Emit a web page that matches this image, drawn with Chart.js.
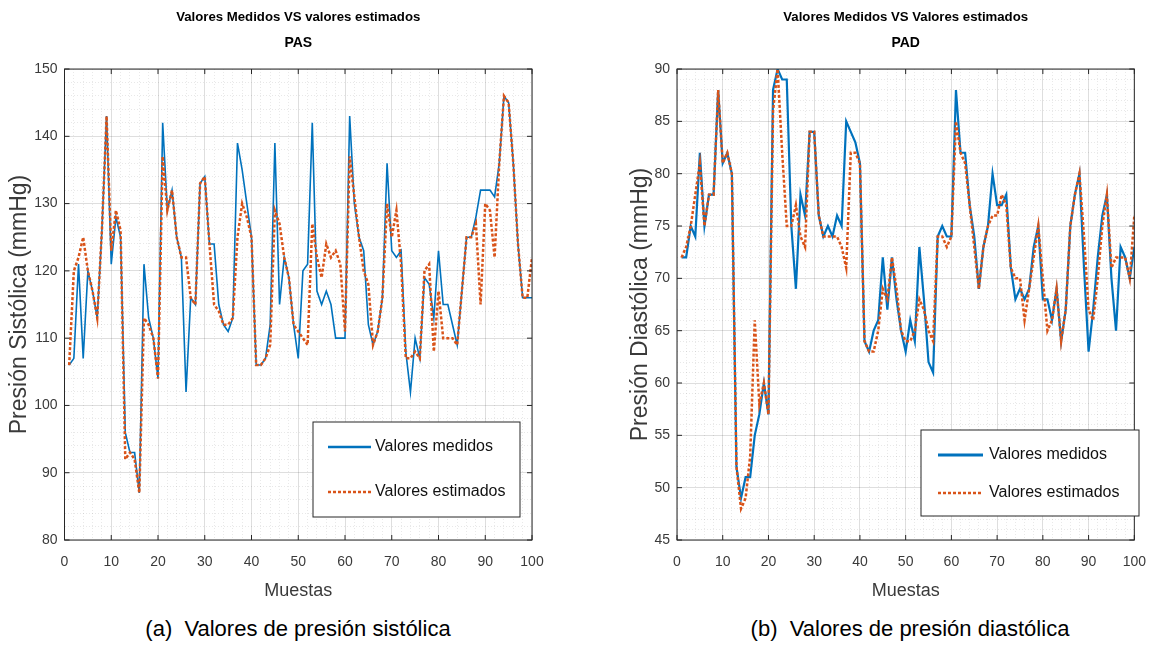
<!DOCTYPE html>
<html>
<head>
<meta charset="utf-8">
<title>PAS / PAD</title>
<script src="https://cdn.jsdelivr.net/npm/chart.js@4.4.1/dist/chart.umd.min.js"></script>
<style>
  html, body { margin: 0; padding: 0; background: #fff; }
  body { width: 1160px; height: 652px; position: relative; overflow: hidden; }
  .panel { position: absolute; top: 0; }
  .caption {
    position: absolute; top: 616px; font-family: 'Liberation Sans', Arial, sans-serif;
    font-size: 22px; color: #000; text-align: center; white-space: nowrap;
  }
</style>
</head>
<body>
<div class="panel" style="left:0"><canvas id="pas" width="580" height="610"></canvas></div>
<div class="panel" style="left:590px"><canvas id="pad" width="570" height="610"></canvas></div>
<div class="caption" style="left:0;width:596px">(a)&nbsp; Valores de presión sistólica</div>
<div class="caption" style="left:660px;width:500px">(b)&nbsp; Valores de presión diastólica</div>

<script>
// muestras 1..100
const muestras = Array.from({ length: 100 }, (_, i) => i + 1);

// presión sistólica (mmHg)
const pasMedidos = [
  106, 107, 121, 107, 120, 117, 113, 126, 143, 121,
  128, 125, 96, 93, 93, 87, 121, 113, 110, 104,
  142, 129, 132, 125, 122, 102, 116, 115, 133, 134,
  124, 124, 115, 112, 111, 113, 139, 135, 130, 125,
  106, 106, 107, 112, 139, 115, 122, 119, 112, 107,
  120, 121, 142, 117, 115, 117, 115, 110, 110, 110,
  143, 130, 125, 123, 112, 109, 111, 116, 136, 123,
  122, 123, 108, 102, 110, 107, 119, 118, 113, 123,
  115, 115, 112, 109, 117, 125, 125, 128, 132, 132,
  132, 131, 136, 146, 145, 136, 124, 116, 116, 116
];
const pasEstimados = [
  106, 120, 122, 125, 120, 117, 113, 126, 143, 123,
  129, 126, 92, 93, 92, 87, 113, 112, 110, 104,
  137, 129, 132, 125, 122, 122, 116, 115, 133, 134,
  124, 115, 114, 112, 112, 113, 125, 130, 128, 125,
  106, 106, 107, 109, 129, 127, 122, 119, 112, 111,
  110, 109, 127, 122, 119, 124, 122, 123, 121, 111,
  137, 131, 125, 120, 118, 109, 111, 116, 130, 125,
  129, 121, 107, 107, 108, 107, 120, 121, 108, 117,
  110, 110, 110, 109, 117, 125, 125, 127, 115, 130,
  129, 122, 136, 146, 145, 136, 124, 116, 116, 122
];

// presión diastólica (mmHg)
const padMedidos = [
  72, 72, 75, 74, 82, 75, 78, 78, 88, 81,
  82, 80, 52, 49, 51, 51, 55, 57, 60, 57,
  88, 90, 89, 89, 75, 69, 78, 76, 84, 84,
  76, 74, 75, 74, 76, 75, 85, 84, 83, 81,
  64, 63, 65, 66, 72, 67, 72, 68, 65, 63,
  66, 64, 73, 68, 62, 61, 74, 75, 74, 74,
  88, 82, 82, 77, 74, 69, 73, 75, 80, 77,
  77, 78, 71, 68, 69, 68, 69, 73, 75, 68,
  68, 66, 69, 64, 67, 75, 78, 80, 71, 63,
  67, 72, 76, 78, 70, 65, 73, 72, 70, 73
];
const padEstimados = [
  72, 73, 75, 78, 81, 75, 78, 78, 88, 81,
  82, 80, 52, 48, 49, 53, 66, 58, 60, 57,
  86, 90, 82, 75, 75, 77, 74, 73, 84, 84,
  76, 74, 74, 74, 74, 73, 71, 82, 82, 81,
  64, 63, 63, 65, 69, 68, 72, 69, 65, 64,
  64, 65, 68, 67, 65, 64, 74, 74, 73, 74,
  85, 82, 81, 77, 73, 69, 73, 75, 76, 76,
  78, 77, 71, 70, 70, 66, 69, 72, 75, 70,
  65, 66, 69, 64, 67, 75, 78, 80, 74, 67,
  66, 70, 75, 78, 71, 72, 72, 72, 70, 76
];

const etiquetas = ['Valores medidos', 'Valores estimados'];

const AZUL = '#0072BD';
const NARANJA = '#D95319';
const SANS = "'Liberation Sans', Arial, sans-serif";
const TEXTO = '#3a3a3a';

// marco tipo MATLAB: caja, marcas hacia dentro y leyenda abajo a la derecha
const marcoMatlab = {
  id: 'marcoMatlab',
  afterDraw(chart, args, opts) {
    const { ctx, chartArea: a, scales } = chart;
    ctx.save();
    ctx.strokeStyle = '#262626';
    ctx.lineWidth = 1;
    ctx.strokeRect(a.left, a.top, a.width, a.height);

    const tl = 5;
    ctx.beginPath();
    for (let v = scales.x.min; v <= scales.x.max; v += opts.xMajor) {
      const px = scales.x.getPixelForValue(v);
      ctx.moveTo(px, a.bottom); ctx.lineTo(px, a.bottom - tl);
      ctx.moveTo(px, a.top); ctx.lineTo(px, a.top + tl);
    }
    for (let v = scales.y.min; v <= scales.y.max; v += opts.yMajor) {
      const py = scales.y.getPixelForValue(v);
      ctx.moveTo(a.left, py); ctx.lineTo(a.left + tl, py);
      ctx.moveTo(a.right, py); ctx.lineTo(a.right - tl, py);
    }
    ctx.stroke();

    // leyenda
    const lg = opts.legend;
    ctx.fillStyle = '#fff';
    ctx.fillRect(lg.left, lg.top, lg.width, lg.height);
    ctx.strokeStyle = '#262626';
    ctx.strokeRect(lg.left, lg.top, lg.width, lg.height);
    ctx.font = lg.font;
    ctx.textBaseline = 'middle';
    ctx.textAlign = 'left';
    chart.data.datasets.forEach((ds, i) => {
      const y = lg.top + lg.rows[i];
      ctx.beginPath();
      ctx.strokeStyle = ds.borderColor;
      ctx.lineWidth = ds.legendWidth || ds.borderWidth;
      ctx.setLineDash(ds.borderDash || []);
      ctx.moveTo(lg.left + lg.line[0], y);
      ctx.lineTo(lg.left + lg.line[1], y);
      ctx.stroke();
      ctx.setLineDash([]);
      ctx.fillStyle = '#111';
      ctx.fillText(ds.label, lg.left + lg.textX, y);
    });
    ctx.restore();
  }
};

function grilla(major) {
  return {
    drawTicks: false,
    lineWidth: 1,
    color: c => (Math.abs(c.tick.value % major) < 1e-6 ? 'rgba(0,0,0,0.13)' : 'rgba(0,0,0,0.09)')
  };
}

function crearGrafico(id, cfg) {
  const puntos = vals => vals.map((v, i) => ({ x: muestras[i], y: v }));
  return new Chart(document.getElementById(id), {
    type: 'line',
    data: {
      datasets: [
        {
          label: etiquetas[0],
          data: puntos(cfg.medidos),
          borderColor: AZUL,
          borderWidth: cfg.anchoAzul,
          legendWidth: cfg.anchoAzul + 1,
          pointRadius: 0,
          tension: 0,
          order: 2
        },
        {
          label: etiquetas[1],
          data: puntos(cfg.estimados),
          borderColor: NARANJA,
          borderWidth: 2.5,
          borderDash: [3, 2],
          pointRadius: 0,
          tension: 0,
          order: 1
        }
      ]
    },
    options: {
      responsive: false,
      animation: false,
      layout: { padding: cfg.padding },
      scales: {
        x: {
          type: 'linear',
          min: 0,
          max: 100,
          afterFit: s => { s.height = 70; },
          ticks: {
            stepSize: 2,
            autoSkip: false,
            maxRotation: 0,
            padding: 14,
            color: TEXTO,
            font: { family: SANS, size: 14 },
            callback: v => (v % 10 === 0 ? v : '')
          },
          grid: grilla(10),
          border: { display: false, dash: c => (c.tick && c.tick.value % 10 === 0 ? [] : [1, 2]) },
          title: {
            display: true,
            text: 'Muestas',
            color: TEXTO,
            font: { family: SANS, size: 18 },
            padding: { top: 0, bottom: 8 }
          }
        },
        y: {
          min: cfg.yMin,
          max: cfg.yMax,
          afterFit: s => { s.width = cfg.anchoY; },
          ticks: {
            stepSize: cfg.yMinor,
            autoSkip: false,
            padding: 7,
            color: TEXTO,
            font: { family: SANS, size: 14 },
            callback: v => (v % cfg.yMajor === 0 ? v : '')
          },
          grid: grilla(cfg.yMajor),
          border: { display: false, dash: c => (c.tick && c.tick.value % cfg.yMajor === 0 ? [] : [1, 2]) },
          title: {
            display: true,
            text: cfg.tituloY,
            color: TEXTO,
            font: { family: SANS, size: 23 },
            padding: { top: 6, bottom: 0 }
          }
        }
      },
      plugins: {
        legend: { display: false },
        tooltip: { enabled: false },
        title: {
          display: true,
          fullSize: false,
          text: cfg.titulo,
          color: '#000',
          font: { family: SANS, size: 13.2, weight: 'bold' },
          padding: { top: 9, bottom: 6 }
        },
        subtitle: {
          display: true,
          fullSize: false,
          text: cfg.subtitulo,
          color: '#000',
          font: { family: SANS, size: 14, weight: 'bold' },
          padding: { top: 4, bottom: 17.4 }
        },
        marcoMatlab: { xMajor: 10, yMajor: cfg.yMajor, legend: cfg.leyenda }
      }
    },
    plugins: [marcoMatlab]
  });
}

crearGrafico('pas', {
  medidos: pasMedidos,
  estimados: pasEstimados,
  titulo: 'Valores Medidos VS valores estimados',
  subtitulo: 'PAS',
  tituloY: 'Presión Sistólica (mmHg)',
  yMin: 80, yMax: 150, yMajor: 10, yMinor: 2,
  anchoY: 64.5,
  anchoAzul: 1.6,
  padding: { left: 0, right: 48, top: 0, bottom: 0 },
  leyenda: {
    left: 313, top: 422, width: 207, height: 95,
    rows: [25, 70], line: [15, 58], textX: 62,
    font: "16px " + SANS
  }
});

crearGrafico('pad', {
  medidos: padMedidos,
  estimados: padEstimados,
  titulo: 'Valores Medidos VS Valores estimados',
  subtitulo: 'PAD',
  tituloY: 'Presión Diastólica (mmHg)',
  yMin: 45, yMax: 90, yMajor: 5, yMinor: 1,
  anchoY: 56,
  anchoAzul: 2.2,
  padding: { left: 31, right: 14, top: 0, bottom: 0 },
  leyenda: {
    left: 331, top: 430, width: 218, height: 86,
    rows: [25, 63], line: [17, 62], textX: 68,
    font: "16px " + SANS
  }
});
</script>
</body>
</html>
